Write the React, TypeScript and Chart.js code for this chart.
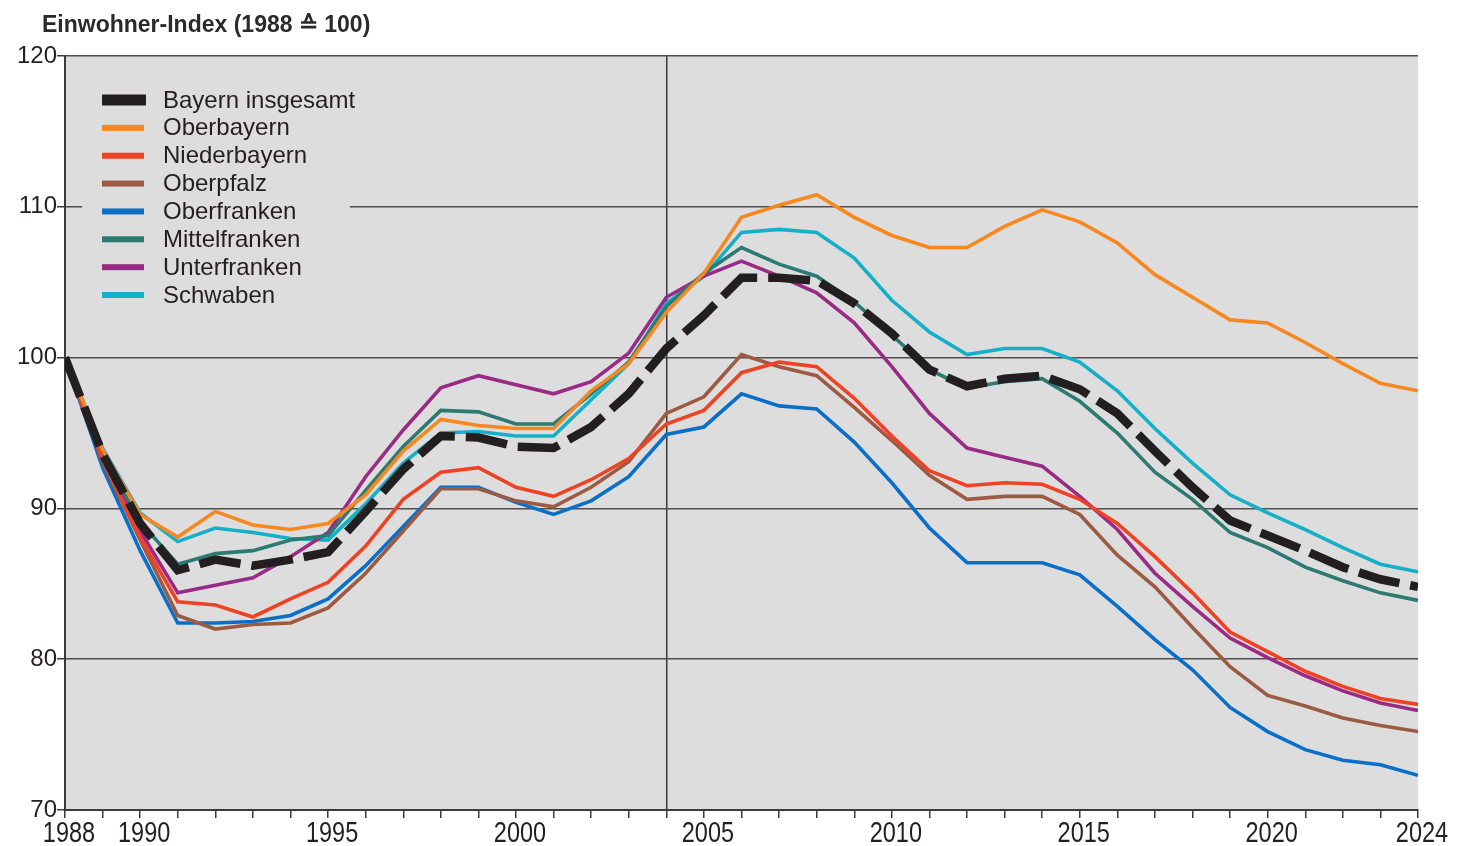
import React, { useEffect, useRef } from "react";
import { Chart, registerables } from "chart.js";

Chart.register(...registerables);

const years = [
  1988, 1989, 1990, 1991, 1992, 1993, 1994, 1995, 1996, 1997, 1998, 1999,
  2000, 2001, 2002, 2003, 2004, 2005, 2006, 2007, 2008, 2009, 2010, 2011,
  2012, 2013, 2014, 2015, 2016, 2017, 2018, 2019, 2020, 2021, 2022, 2023, 2024,
];
const labeledYears = [1988, 1990, 1995, 2000, 2005, 2010, 2015, 2020, 2024];
const yMin = 70;
const yMax = 120;
const yStep = 10;
const markerYear = 2004;

const titleText = "Einwohner-Index (1988 \u2259 100)";

const bayern = [
  100, 93.6, 89.0, 85.9, 86.6, 86.2, 86.6, 87.1, 89.8, 92.6, 94.8, 94.7,
  94.1, 94.0, 95.4, 97.6, 100.6, 102.8, 105.3, 105.3, 105.1, 103.6, 101.6, 99.2,
  98.1, 98.6, 98.8, 97.9, 96.3, 93.8, 91.4, 89.2, 88.2, 87.2, 86.1, 85.3, 84.8,
];
const oberbayern = [
  100, 93.9, 89.6, 88.1, 89.8, 88.9, 88.6, 89.0, 90.9, 93.8, 95.9, 95.5,
  95.3, 95.3, 97.8, 99.6, 103.0, 105.6, 109.3, 110.1, 110.8, 109.3, 108.1, 107.3,
  107.3, 108.7, 109.8, 109.0, 107.6, 105.5, 104.0, 102.5, 102.3, 101.0, 99.6, 98.3, 97.8,
];
const niederbayern = [
  100, 93.2, 88.1, 83.8, 83.6, 82.8, 84.0, 85.1, 87.5, 90.6, 92.4, 92.7,
  91.4, 90.8, 91.9, 93.3, 95.6, 96.5, 99.0, 99.7, 99.4, 97.3, 94.8, 92.5,
  91.5, 91.7, 91.6, 90.6, 89.0, 86.8, 84.4, 81.8, 80.5, 79.2, 78.2, 77.4, 77.0,
];
const oberpfalz = [
  100, 93.1, 87.9, 82.9, 82.0, 82.3, 82.4, 83.4, 85.7, 88.5, 91.3, 91.3,
  90.5, 90.1, 91.4, 93.1, 96.3, 97.4, 100.2, 99.4, 98.8, 96.7, 94.5, 92.2,
  90.6, 90.8, 90.8, 89.6, 86.9, 84.8, 82.1, 79.5, 77.6, 76.9, 76.1, 75.6, 75.2,
];
const oberfranken = [
  100, 92.7, 87.2, 82.4, 82.4, 82.5, 82.9, 84.0, 86.2, 88.8, 91.4, 91.4,
  90.4, 89.6, 90.5, 92.1, 94.9, 95.4, 97.6, 96.8, 96.6, 94.4, 91.7, 88.7,
  86.4, 86.4, 86.4, 85.6, 83.5, 81.3, 79.3, 76.8, 75.2, 74.0, 73.3, 73.0, 72.3,
];
const mittelfranken = [
  100, 93.6, 89.1, 86.3, 87.0, 87.2, 87.9, 88.2, 91.2, 94.1, 96.5, 96.4,
  95.6, 95.6, 97.6, 99.7, 103.4, 105.6, 107.3, 106.2, 105.4, 103.7, 101.5, 99.2,
  98.0, 98.4, 98.6, 97.1, 95.0, 92.4, 90.6, 88.4, 87.4, 86.1, 85.2, 84.4, 83.9,
];
const unterfranken = [
  100, 93.4, 88.5, 84.4, 84.9, 85.4, 86.8, 88.4, 92.1, 95.2, 98.0, 98.8,
  98.2, 97.6, 98.4, 100.3, 104.0, 105.4, 106.4, 105.4, 104.3, 102.3, 99.4, 96.3,
  94.0, 93.4, 92.8, 90.8, 88.6, 85.7, 83.5, 81.4, 80.1, 78.9, 77.9, 77.1, 76.6,
];
const schwaben = [
  100, 94.0, 89.7, 87.8, 88.7, 88.4, 88.0, 87.9, 90.3, 93.0, 95.0, 95.1,
  94.8, 94.8, 97.2, 99.6, 103.6, 105.4, 108.3, 108.5, 108.3, 106.6, 103.8, 101.7,
  100.2, 100.6, 100.6, 99.7, 97.8, 95.3, 93.0, 90.9, 89.7, 88.6, 87.4, 86.3, 85.8,
];

const seriesNames = [
  "Bayern insgesamt",
  "Oberbayern",
  "Niederbayern",
  "Oberpfalz",
  "Oberfranken",
  "Mittelfranken",
  "Unterfranken",
  "Schwaben",
];
const seriesValues = [
  bayern,
  oberbayern,
  niederbayern,
  oberpfalz,
  oberfranken,
  mittelfranken,
  unterfranken,
  schwaben,
];
const seriesColors = [
  "#231f20",
  "#f7881f",
  "#ee4224",
  "#9c5a43",
  "#0a6fc9",
  "#2c7a72",
  "#992a86",
  "#16afc8",
];

const PLOT_BG = "#dddddd";
const AXIS_COLOR = "#3a3a3a";
const GRID_COLOR = "#4e4e4e";
const TEXT_COLOR = "#231f20";
const SANS = '"Liberation Sans", Arial, Helvetica, sans-serif';

const backgroundPlugin = {
  id: "plotBackground",
  beforeDraw(chart: any) {
    const { ctx, chartArea } = chart;
    ctx.save();
    ctx.fillStyle = PLOT_BG;
    ctx.fillRect(
      chartArea.left,
      chartArea.top,
      chartArea.right - chartArea.left,
      chartArea.bottom - chartArea.top
    );
    ctx.restore();
  },
};

const titlePlugin = {
  id: "customTitle",
  afterDraw(chart: any) {
    const { ctx } = chart;
    ctx.save();
    ctx.fillStyle = "#2a2a2a";
    ctx.font = `bold 23px ${SANS}`;
    ctx.textBaseline = "alphabetic";
    ctx.textAlign = "left";
    ctx.fillText(titleText, 34, 24);
    ctx.restore();
  },
};

// Condensed year labels, placed at the x scale's own tick pixels
const xLabelPlugin = {
  id: "condensedXLabels",
  afterDraw(chart: any) {
    const { ctx, chartArea } = chart;
    const xs = chart.scales.x;
    ctx.save();
    ctx.fillStyle = TEXT_COLOR;
    ctx.font = `29px ${SANS}`;
    ctx.textAlign = "center";
    ctx.textBaseline = "alphabetic";
    labeledYears.forEach((yr) => {
      const px = xs.getPixelForValue(yr);
      ctx.save();
      ctx.translate(px + 4, chartArea.bottom + 32);
      ctx.scale(0.81, 1);
      ctx.fillText(String(yr), 0, 0);
      ctx.restore();
    });
    ctx.restore();
  },
};

const legendPlugin = {
  id: "customLegend",
  afterDraw(chart: any) {
    const { ctx } = chart;
    const boxLeft = 74;
    const boxTop = 74;
    const boxW = 268;
    const boxH = 232;
    const markerX = 94;
    const textX = 155;
    const firstY = 92;
    const rowH = 27.86;
    ctx.save();
    ctx.fillStyle = PLOT_BG;
    ctx.fillRect(boxLeft, boxTop, boxW, boxH);
    chart.data.datasets.forEach((ds: any, i: number) => {
      const cy = firstY + i * rowH;
      const isMain = i === 0;
      const h = isMain ? 11 : 6;
      const w = isMain ? 44 : 42;
      ctx.fillStyle = ds.borderColor;
      ctx.fillRect(markerX, cy - h / 2, w, h);
      ctx.fillStyle = TEXT_COLOR;
      ctx.font = `24px ${SANS}`;
      ctx.textBaseline = "middle";
      ctx.textAlign = "left";
      ctx.fillText(ds.label, textX, cy + 1);
    });
    ctx.restore();
  },
};

export default function App() {
  const canvasRef = useRef<HTMLCanvasElement | null>(null);

  useEffect(() => {
    document.documentElement.style.overflow = "hidden";
    const canvas = canvasRef.current;
    if (!canvas) return;

    const datasets = seriesNames.map((name, i) => ({
      label: name,
      data: years.map((yr, j) => ({ x: yr, y: seriesValues[i][j] })),
      borderColor: seriesColors[i],
      backgroundColor: seriesColors[i],
      borderWidth: i === 0 ? 8.5 : 3.6,
      borderDash: i === 0 ? [42, 11] : [],
      borderCapStyle: "butt",
      borderJoinStyle: "miter",
      pointRadius: 0,
      pointHoverRadius: 0,
      tension: 0,
      fill: false,
    }));

    const chart = new Chart(canvas, {
      type: "line",
      data: { datasets } as any,
      options: {
        responsive: false,
        animation: false,
        devicePixelRatio: 1,
        layout: { padding: { top: 48, right: 41, bottom: 0, left: 0 } },
        plugins: {
          legend: { display: false },
          title: { display: false },
          tooltip: { enabled: false },
        },
        scales: {
          x: {
            type: "linear",
            min: years[0],
            max: years[years.length - 1],
            afterFit: (s: any) => {
              s.height = 36;
            },
            ticks: {
              display: false,
              stepSize: 1,
              autoSkip: false,
              maxRotation: 0,
              minRotation: 0,
              maxTicksLimit: 200,
            },
            grid: {
              color: (c: any) =>
                c.tick && c.tick.value === markerYear ? AXIS_COLOR : "rgba(0,0,0,0)",
              lineWidth: 1.5,
              tickColor: AXIS_COLOR,
              tickLength: 8,
              tickWidth: 1.5,
              drawTicks: true,
            },
            border: { display: true, color: AXIS_COLOR, width: 2 },
          },
          y: {
            type: "linear",
            min: yMin,
            max: yMax,
            afterFit: (s: any) => {
              s.width = 57;
            },
            ticks: {
              stepSize: yStep,
              padding: 0,
              color: TEXT_COLOR,
              font: { family: SANS, size: 24 },
            },
            grid: {
              color: GRID_COLOR,
              lineWidth: 1.5,
              tickColor: AXIS_COLOR,
              tickLength: 8,
              tickWidth: 1.5,
            },
            border: { display: true, color: AXIS_COLOR, width: 2 },
          },
        },
      } as any,
      plugins: [backgroundPlugin, titlePlugin, xLabelPlugin, legendPlugin],
    });

    return () => {
      chart.destroy();
    };
  }, []);

  return (
    <div style={{ width: 1451, height: 838, position: "relative" }}>
      <canvas
        ref={canvasRef}
        width={1451}
        height={838}
        style={{ display: "block", width: 1451, height: 838 }}
      />
    </div>
  );
}
